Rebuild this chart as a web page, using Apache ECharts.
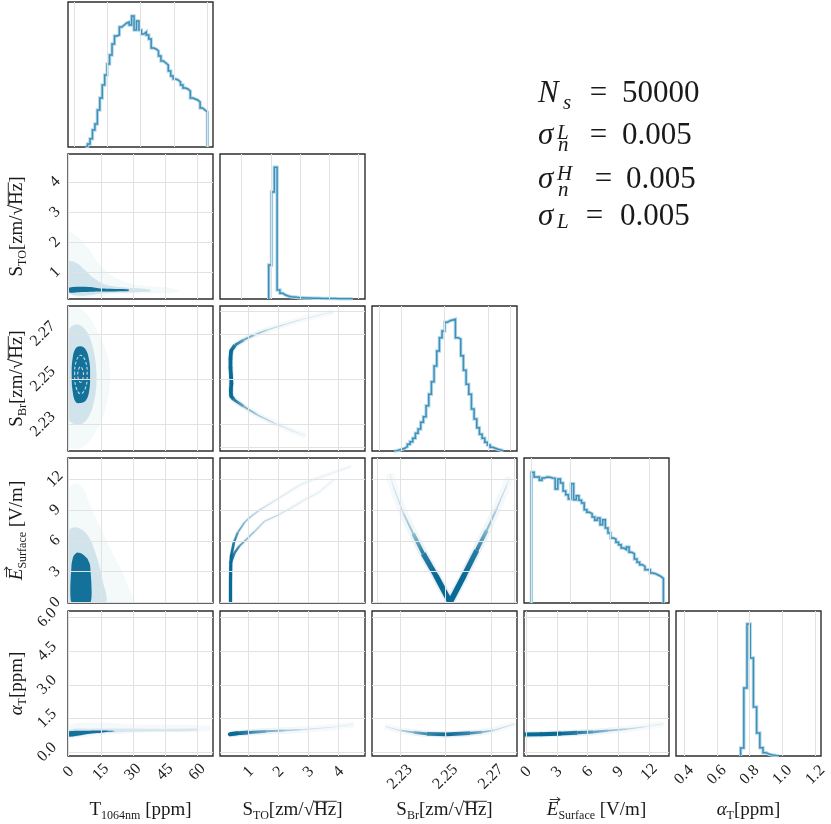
<!DOCTYPE html>
<html lang="en">
<head>
<meta charset="UTF-8">
<title>Corner plot</title>
<script src="https://cdn.jsdelivr.net/npm/echarts@6/dist/echarts.min.js"></script>
<style>
    html, body { margin: 0; padding: 0; background: #fff; }
    #main { width: 831px; height: 824px; }
</style>
</head>
<body>
<div id="main"></div>
<script>
// ---------------- data ----------------
// diagonal histograms: first bin edge, bin width, bar heights (relative units)
var histT_start = 5.0, histT_width = 1.1;
var histT_counts = [0.7, 3, 8.3, 17, 23, 37, 49, 62, 72, 83, 92, 103, 111, 112, 120, 122, 124, 125, 122, 131,
    117, 126, 117, 113, 115, 112, 108, 99, 98, 96, 91, 86, 84, 82, 76, 71, 68, 67, 65, 62,
    59, 58, 56, 49, 48, 47, 45, 39, 37, 35];
var histSto_start = 1.923, histSto_width = 0.0957;
var histSto_counts = [34, 107, 131.7, 9, 5.7, 4, 3, 2.3, 2, 1.7, 1.3, 1.2, 1, 1, 0.9, 0.8, 0.7, 0.7, 0.6, 0.6,
    0.5, 0.5, 0.4, 0.4, 0.3, 0.3, 0.3, 0.2, 0.2, 0.2];
var histSbr_start = 2.2269, histSbr_width = 0.0012217;
var histSbr_counts = [0.3, 1, 1.7, 2.7, 4.3, 6.7, 9.3, 12.7, 17.7, 22, 28.7, 34.3, 45.3, 56.7, 69.3, 85, 100, 113.3,
    120, 128.7, 130.3, 131, 131.7, 113.3, 112, 95.3, 80.7, 66.7, 56.7, 42, 32, 23.3, 16.7, 12.7, 8.7, 6, 3.7,
    2.7, 1.7, 1, 0.3];
var histE_start = 0, histE_width = 0.2686;
var histE_counts = [130.7, 126, 126, 122.7, 125, 126, 125.7, 125, 124.7, 114, 124, 120, 112, 108.3, 104, 119.3,
    103.3, 107.3, 102.7, 100, 93.3, 90.7, 89.3, 86, 82.7, 85, 78.3, 83.3, 75, 70, 65, 64, 60.7, 58.3, 55, 53.3,
    56, 50.7, 49.3, 44, 40.7, 38.3, 36.7, 33.3, 33.3, 30, 29.3, 28, 26.7, 24.7];
var histA_start = 0.745, histA_width = 0.0195;
var histA_counts = [8, 68, 132, 98, 49, 23, 8.3, 3.3, 1.7, 1, 0.6, 0.3];

// sample clouds (outlines in data units): faint halo, medium, dense core
var tSto_halo = [[0, 0.3], [0, 2.3], [4, 2.2], [9, 1.8], [14, 1.3], [20, 0.9], [30, 0.62], [48, 0.48], [52, 0.4], [48, 0.33], [25, 0.3]];
var tSto_mid = [[0, 0.32], [0, 1.35], [4, 1.3], [8, 1.05], [12, 0.8], [17, 0.6], [26, 0.5], [38, 0.44], [38, 0.37], [20, 0.33]];
var tSto_core = [[0.3, 0.34], [0.3, 0.5], [5, 0.53], [10, 0.52], [15, 0.47], [28, 0.44], [28, 0.39], [15, 0.37], [5, 0.35]];

var tSbr_halo = [[0, 2.221], [0, 2.281], [6, 2.281], [13, 2.272], [19, 2.256], [17, 2.236], [10, 2.223], [4, 2.219]];
var tSbr_mid = [[0.3, 2.232], [0.3, 2.272], [5, 2.274], [10, 2.268], [13, 2.252], [11, 2.237], [6, 2.23]];
var tSbr_core = [[1.4, 2.252], [1.8, 2.259], [3.2, 2.2635], [5.5, 2.2645], [8.0, 2.263], [9.6, 2.258], [10.0, 2.252],
    [9.6, 2.245], [8.0, 2.2405], [5.5, 2.2394], [3.2, 2.240], [1.8, 2.245]];
var tSbr_ring1 = [[2.8, 2.252], [3.4, 2.2575], [5.5, 2.2605], [7.8, 2.258], [8.6, 2.252], [7.8, 2.246], [5.5, 2.2435], [3.4, 2.2465]];
var tSbr_ring2 = [[4.2, 2.252], [5.5, 2.2555], [6.9, 2.252], [5.5, 2.2485]];

var tE_halo = [[0, 0], [0, 11], [5, 11.5], [12, 8.5], [20, 5], [27, 2], [29, 0]];
var tE_mid = [[0.3, 0], [0.3, 7], [4, 7.3], [9, 6.5], [13, 4.5], [16, 2], [17, 0]];
var tE_core = [[1.3, 0], [1.3, 3.6], [2.2, 4.5], [4, 4.85], [6.5, 4.7], [8.6, 4.3], [10, 3.6], [10.2, 0]];

var tA_halo = [[0, 0.62], [0, 1.2], [12, 1.32], [30, 1.25], [66, 1.18], [66, 0.95], [35, 0.88], [15, 0.75], [5, 0.65]];
var tA_mid = [[0.2, 0.68], [0.2, 1.0], [10, 1.05], [25, 1.06], [45, 1.04], [60, 1.05], [60, 0.96], [40, 0.92], [22, 0.88], [10, 0.8]];
var tA_core = [[0.2, 0.7], [0.2, 0.93], [8, 0.96], [16, 0.97], [22, 0.94], [16, 0.88], [8, 0.8], [3, 0.72]];

// thin sample ridges: [x, y, density]
var stoSbr_curve = [[3.84, 2.2798, 0.03], [2.73, 2.2762, 0.08], [2.17, 2.274, 0.14], [1.62, 2.2717, 0.22], [1.18, 2.2695, 0.36],
    [0.84, 2.2673, 0.55], [0.55, 2.265, 0.85], [0.42, 2.2625, 1], [0.40, 2.259, 1], [0.40, 2.255, 1], [0.42, 2.251, 1],
    [0.43, 2.248, 1], [0.41, 2.245, 1], [0.42, 2.2425, 1], [0.51, 2.2409, 0.9], [0.84, 2.2379, 0.5], [1.29, 2.2342, 0.3],
    [1.84, 2.2306, 0.16], [2.51, 2.2269, 0.07], [2.9, 2.2249, 0.03]];
var stoE_stem = [[0.40, 0, 1], [0.40, 2, 1], [0.41, 3.9, 1]];
var stoE_armA = [[0.41, 3.9, 1], [0.42, 4.5, 1], [0.51, 5.8, 0.85], [0.64, 6.8, 0.6], [0.87, 7.8, 0.4], [1.09, 8.4, 0.28],
    [1.42, 9.1, 0.2], [1.87, 9.9, 0.13], [2.31, 10.7, 0.09], [2.75, 11.5, 0.06], [3.2, 12.0, 0.04], [4.42, 13.25, 0.02]];
var stoE_armB = [[0.41, 3.9, 1], [0.53, 4.8, 0.85], [0.70, 5.5, 0.65], [0.92, 6.1, 0.45], [1.2, 6.9, 0.32], [1.53, 7.9, 0.24],
    [1.98, 8.5, 0.16], [2.42, 9.2, 0.11], [2.87, 10.0, 0.07], [3.31, 10.65, 0.05], [3.87, 12.0, 0.02]];
var sbrE_left = [[2.252, 0, 1], [2.2461, 2.47, 1], [2.2402, 4.75, 0.85], [2.2358, 6.7, 0.35], [2.2315, 8.66, 0.18],
    [2.2271, 11.26, 0.07], [2.2256, 12.56, 0.03]];
var sbrE_right = [[2.252, 0, 1], [2.2578, 2.47, 1], [2.2637, 5.07, 0.85], [2.2681, 7.02, 0.4], [2.2725, 9.14, 0.22],
    [2.2769, 11.41, 0.08], [2.278, 12.2, 0.03]];
var stoA_curve = [[0.38, 0.8, 1], [0.6, 0.84, 1], [1.0, 0.88, 0.8], [1.6, 0.93, 0.5], [2.2, 0.97, 0.3], [2.73, 1.0, 0.16],
    [3.3, 1.06, 0.09], [3.84, 1.12, 0.05], [4.51, 1.24, 0.02]];
var sbrA_curve = [[2.2234, 1.15, 0.03], [2.23, 0.97, 0.18], [2.236, 0.88, 0.45], [2.2417, 0.82, 0.75], [2.2505, 0.79, 1],
    [2.2608, 0.85, 0.75], [2.266, 0.9, 0.45], [2.271, 0.97, 0.22], [2.2806, 1.27, 0.03]];
var eA_curve = [[-0.2, 0.79, 1], [1.5, 0.8, 1], [3.3, 0.83, 1], [5, 0.87, 0.85], [6.55, 0.9, 0.6], [8, 0.96, 0.38],
    [9.8, 1.03, 0.2], [11.5, 1.13, 0.08], [13.4, 1.27, 0.03]];

// axis tick values
var ticksT = [0, 15, 30, 45, 60];
var ticksSto = [1, 2, 3, 4];
var ticksSbr = [2.23, 2.25, 2.27];
var ticksSbrFine = [2.22, 2.235, 2.25, 2.265, 2.28];
var ticksE = [0, 3, 6, 9, 12];
var ticksA = [0, 1.5, 3, 4.5, 6];
var histTicksSto = [1, 2, 3, 4, 5];
var histTicksE = [0, 4, 8, 12];
var histTicksA = [0.4, 0.6, 0.8, 1.0, 1.2];

// ---------------- layout / style ----------------
var SERIF = 'Liberation Serif';
var DOT = '#0a6a96';
var TXT = '#1a1a1a';
var colLeft = [68, 220, 372, 524, 676];
var rowTop = [2, 154, 306, 458, 611];
var PW = 145, PH = 145;

var option = {
    animation: false,
    backgroundColor: '#ffffff',
    grid: [], xAxis: [], yAxis: [], series: [], graphic: []
};

function addPanel(r, c, xr, yr, xg, yg) {
    var gi = option.grid.length;
    option.grid.push({
        left: colLeft[c], top: rowTop[r], width: PW, height: PH,
        show: true, borderColor: '#2e2e2e', borderWidth: 1.4,
        containLabel: false, outerBoundsMode: 'none'
    });
    option.xAxis.push({
        type: 'value', gridIndex: gi, min: xr[0], max: xr[1],
        axisLine: {show: false}, axisTick: {show: false}, splitLine: {show: false}, axisLabel: {show: false}
    });
    option.yAxis.push({
        type: 'value', gridIndex: gi, min: yr[0], max: yr[1],
        axisLine: {show: false}, axisTick: {show: false}, splitLine: {show: false}, axisLabel: {show: false}
    });
    var ml = [];
    xg.forEach(function (v) { ml.push({xAxis: v}); });
    (yg || []).forEach(function (v) { ml.push({yAxis: v}); });
    option.series.push({
        type: 'line', xAxisIndex: gi, yAxisIndex: gi, data: [], silent: true, z: 1,
        markLine: {
            silent: true, symbol: 'none', animation: false, label: {show: false},
            lineStyle: {color: '#e2e2e2', width: 1, type: 'solid'},
            emphasis: {disabled: true},
            data: ml
        }
    });
    return gi;
}

function axisLabels(ax, vals, dec, margin) {
    ax.axisLabel = {
        show: true, customValues: vals, rotate: 45, align: 'center', verticalAlign: 'middle',
        margin: margin, fontFamily: SERIF, fontSize: 16, color: '#222',
        formatter: function (v) { return (+v).toFixed(dec); }
    };
    ax.axisTick = {show: false, customValues: vals};
}
function xLabels(gi, vals, dec, margin) { axisLabels(option.xAxis[gi], vals, dec, margin); }
function yLabels(gi, vals, dec, margin) { axisLabels(option.yAxis[gi], vals, dec, margin); }

function histSeries(gi, start, width, counts) {
    var pts = [[start, 0]];
    for (var i = 0; i < counts.length; i++) {
        pts.push([start + i * width, counts[i]]);
    }
    pts.push([start + counts.length * width, 0]);
    [{c: '#b4d9ea', w: 3.4, z: 3}, {c: '#3f8fb8', w: 1.5, z: 4}].forEach(function (s) {
        option.series.push({
            type: 'line', xAxisIndex: gi, yAxisIndex: gi, data: pts, step: 'end',
            showSymbol: false, silent: true, z: s.z,
            lineStyle: {color: s.c, width: s.w, join: 'miter'}
        });
    });
}

// filled outlines: layers = [{pts, alpha}] or dashed white ring outlines
function cloudSeries(gi, layers) {
    option.series.push({
        type: 'custom', xAxisIndex: gi, yAxisIndex: gi, clip: true, silent: true, z: 2,
        data: [[0, 0]],
        renderItem: function (params, api) {
            return {
                type: 'group',
                children: layers.map(function (L) {
                    var p = L.pts.map(function (q) { return api.coord(q); });
                    if (L.ring) {
                        return {type: 'polygon', shape: {points: p, smooth: 0.45},
                            style: {fill: 'none', stroke: '#ffffff', lineWidth: 1.1, opacity: 0.75, lineDash: [3, 2]}};
                    }
                    return {type: 'polygon', shape: {points: p, smooth: L.smooth || 0.35},
                        style: {fill: DOT, opacity: L.alpha}};
                })
            };
        }
    });
}

function dotRgba(a) { return 'rgba(10,106,150,' + Math.max(0, Math.min(1, a)).toFixed(3) + ')'; }
function fade(a, b, fa, fb) {
    return {type: 'linear', x: a[0], y: a[1], x2: b[0] + 0.01, y2: b[1] + 0.01, global: true,
        colorStops: [{offset: 0, color: dotRgba(fa)}, {offset: 1, color: dotRgba(fb)}]};
}

// ridge made of segments whose width / opacity follow the density
function ridgeSeries(gi, pts, wMax) {
    option.series.push({
        type: 'custom', xAxisIndex: gi, yAxisIndex: gi, clip: true, silent: true, z: 3,
        data: pts,
        renderItem: function (params, api) {
            var i = params.dataIndex;
            if (i === 0) return;
            var d0 = pts[i - 1][2], d1 = pts[i][2];
            var a = api.coord([pts[i - 1][0], pts[i - 1][1]]);
            var b = api.coord([pts[i][0], pts[i][1]]);
            var d = (d0 + d1) / 2;
            var shape = {x1: a[0], y1: a[1], x2: b[0], y2: b[1]};
            var solid = d0 > 0.95 && d1 > 0.95;
            return {
                type: 'group',
                children: [
                    {type: 'line', shape: shape,
                        style: {stroke: fade(a, b, 0.03 + 0.08 * d0, 0.03 + 0.08 * d1), lineWidth: wMax * 1.8, lineCap: 'butt'}},
                    {type: 'line', shape: shape,
                        style: {stroke: fade(a, b, 0.08 + 0.92 * d0, 0.08 + 0.92 * d1), lineWidth: 0.6 + wMax * d,
                            lineCap: solid ? 'round' : 'butt'}}
                ]
            };
        }
    });
}

// ---------------- panels ----------------
var rT = [-0.33, 67.4], rSto = [0.05, 4.883], rSbr = [2.2177, 2.2814], rE = [-0.195, 13.92];
var ySto = [0.123, 4.923], ySbr = [2.2182, 2.2823], yE = [-0.06, 14.07], yA = [-0.17, 6.3];
var hY = [0, 145];

// row 0
var g00 = addPanel(0, 0, [-2.7, 62.5], hY, ticksT, null);
histSeries(g00, histT_start, histT_width, histT_counts);

// row 1
var g10 = addPanel(1, 0, rT, ySto, ticksT, ticksSto);
cloudSeries(g10, [{pts: tSto_halo, alpha: 0.045}, {pts: tSto_mid, alpha: 0.14}, {pts: tSto_core, alpha: 0.95, smooth: 0.2}]);
yLabels(g10, ticksSto, 0, 13);
var g11 = addPanel(1, 1, [0.258, 5.215], hY, histTicksSto, null);
histSeries(g11, histSto_start, histSto_width, histSto_counts);

// row 2
var g20 = addPanel(2, 0, rT, ySbr, ticksT, ticksSbr);
cloudSeries(g20, [{pts: tSbr_halo, alpha: 0.045}, {pts: tSbr_mid, alpha: 0.14}, {pts: tSbr_core, alpha: 0.95, smooth: 0.4},
    {pts: tSbr_ring1, ring: true}, {pts: tSbr_ring2, ring: true}]);
yLabels(g20, ticksSbr, 2, 25);
var g21 = addPanel(2, 1, rSto, ySbr, ticksSto, ticksSbrFine);
ridgeSeries(g21, stoSbr_curve, 3.2);
var g22 = addPanel(2, 2, [2.2168, 2.2832], hY, ticksSbrFine, null);
histSeries(g22, histSbr_start, histSbr_width, histSbr_counts);

// row 3
var g30 = addPanel(3, 0, rT, yE, ticksT, ticksE);
cloudSeries(g30, [{pts: tE_halo, alpha: 0.045}, {pts: tE_mid, alpha: 0.14}, {pts: tE_core, alpha: 0.95, smooth: 0.2}]);
yLabels(g30, ticksE, 0, 13);
var g31 = addPanel(3, 1, rSto, yE, ticksSto, ticksE);
ridgeSeries(g31, stoE_stem, 2.6);
ridgeSeries(g31, stoE_armA, 2.2);
ridgeSeries(g31, stoE_armB, 2.2);
var g32 = addPanel(3, 2, rSbr, yE, ticksSbrFine, ticksE);
ridgeSeries(g32, sbrE_left, 5);
ridgeSeries(g32, sbrE_right, 5);
var g33 = addPanel(3, 3, [-0.753, 14.0], hY, histTicksE, null);
histSeries(g33, histE_start, histE_width, histE_counts);

// row 4
var g40 = addPanel(4, 0, rT, yA, ticksT, ticksA);
cloudSeries(g40, [{pts: tA_halo, alpha: 0.04}, {pts: tA_mid, alpha: 0.12}, {pts: tA_core, alpha: 0.95, smooth: 0.25}]);
yLabels(g40, ticksA, 1, 21);
xLabels(g40, ticksT, 0, 16);
var g41 = addPanel(4, 1, rSto, yA, ticksSto, ticksA);
ridgeSeries(g41, stoA_curve, 3.6);
xLabels(g41, ticksSto, 0, 16);
var g42 = addPanel(4, 2, rSbr, yA, ticksSbr, ticksA);
ridgeSeries(g42, sbrA_curve, 3.6);
xLabels(g42, ticksSbr, 2, 21);
var g43 = addPanel(4, 3, rE, yA, ticksE, ticksA);
ridgeSeries(g43, eA_curve, 3.6);
xLabels(g43, ticksE, 0, 16);
var g44 = addPanel(4, 4, [0.351, 1.235], hY, histTicksA, null);
histSeries(g44, histA_start, histA_width, histA_counts);
xLabels(g44, histTicksA, 1, 19);

// ---------------- axis titles (laid out piece by piece) ----------------
var measureCtx = document.createElement('canvas').getContext('2d');
function fontOf(size, italic) { return (italic ? 'italic ' : '') + size + 'px "' + SERIF + '"'; }
function textW(t, size, italic) { measureCtx.font = fontOf(size, italic); return measureCtx.measureText(t).width; }

// pieces: [text, size, italic, baselineShift, decoration]
var titleT = [['T', 19], ['1064nm', 12, false, 4.5], [' [ppm]', 19]];
var titleSto = [['S', 19], ['TO', 12, false, 4.5], ['[zm/\u221A', 19], ['Hz', 19, false, 0, 'over'], [']', 19]];
var titleSbr = [['S', 19], ['Br', 12, false, 4.5], ['[zm/\u221A', 19], ['Hz', 19, false, 0, 'over'], [']', 19]];
var titleE = [['E', 19, true, 0, 'arrow'], ['Surface', 12, false, 4.5], [' [V/m]', 19]];
var titleA = [['\u03B1', 19, true], ['T', 12, false, 4.5], ['[ppm]', 19]];

function titleGroup(pieces, x, y, rotation) {
    var total = 0;
    pieces.forEach(function (p) { total += textW(p[0], p[1], p[2]); });
    var cx = -total / 2, base = 6.5, kids = [];
    pieces.forEach(function (p) {
        var w = textW(p[0], p[1], p[2]);
        var b = base + (p[3] || 0);
        kids.push({type: 'text', x: cx, y: b - 0.305 * p[1],
            style: {text: p[0], font: fontOf(p[1], p[2]), fill: TXT, align: 'left', verticalAlign: 'middle',
                textAlign: 'left', textVerticalAlign: 'middle'}});
        if (p[4] === 'over') {
            kids.push({type: 'line', shape: {x1: cx - 0.5, y1: base - 14.2, x2: cx + w + 0.5, y2: base - 14.2},
                style: {stroke: TXT, lineWidth: 0.9}});
        } else if (p[4] === 'arrow') {
            kids.push({type: 'line', shape: {x1: cx + 3, y1: base - 16, x2: cx + w + 1.5, y2: base - 16},
                style: {stroke: TXT, lineWidth: 0.9}});
            kids.push({type: 'polyline', shape: {points: [[cx + w - 1.5, base - 18.3], [cx + w + 1.8, base - 16], [cx + w - 1.5, base - 13.7]]},
                style: {stroke: TXT, lineWidth: 0.9, fill: 'none'}});
        }
        cx += w;
    });
    return {type: 'group', x: x, y: y, rotation: rotation || 0, z: 50, silent: true, children: kids};
}

[titleT, titleSto, titleSbr, titleE, titleA].forEach(function (t, c) {
    option.graphic.push(titleGroup(t, colLeft[c] + PW / 2, 809, 0));
});
[titleSto, titleSbr, titleE, titleA].forEach(function (t, k) {
    option.graphic.push(titleGroup(t, 16, rowTop[k + 1] + PH / 2, Math.PI / 2));
});

// ---------------- sampling settings text ----------------
function gtext(x, baseline, txt, size, italic, align) {
    return {
        type: 'text', x: x, y: baseline - 0.305 * size, z: 60, silent: true,
        style: {
            text: txt, font: fontOf(size, italic), fill: TXT,
            align: align || 'left', verticalAlign: 'middle', textAlign: align || 'left', textVerticalAlign: 'middle'
        }
    };
}
option.graphic.push(
    gtext(538, 103.5, 'N', 31, true), gtext(563, 110, 's', 21, true),
    gtext(598.5, 103.5, '=', 31, false, 'center'), gtext(622, 103.5, '50000', 31, false),

    gtext(538, 145, '\u03C3', 31, true), gtext(557, 139.5, 'L', 21, true), gtext(558, 152, 'n', 21, true),
    gtext(598.5, 145, '=', 31, false, 'center'), gtext(622, 145, '0.005', 31, false),

    gtext(538, 189, '\u03C3', 31, true), gtext(557, 180.5, 'H', 21, true), gtext(558, 196.5, 'n', 21, true),
    gtext(603.5, 189, '=', 31, false, 'center'), gtext(626, 189, '0.005', 31, false),

    gtext(538, 226.5, '\u03C3', 31, true), gtext(557, 229, 'L', 21, true),
    gtext(594.5, 226.5, '=', 31, false, 'center'), gtext(620, 226.5, '0.005', 31, false)
);

var chart = echarts.init(document.getElementById('main'));
chart.setOption(option);
</script>
</body>
</html>
